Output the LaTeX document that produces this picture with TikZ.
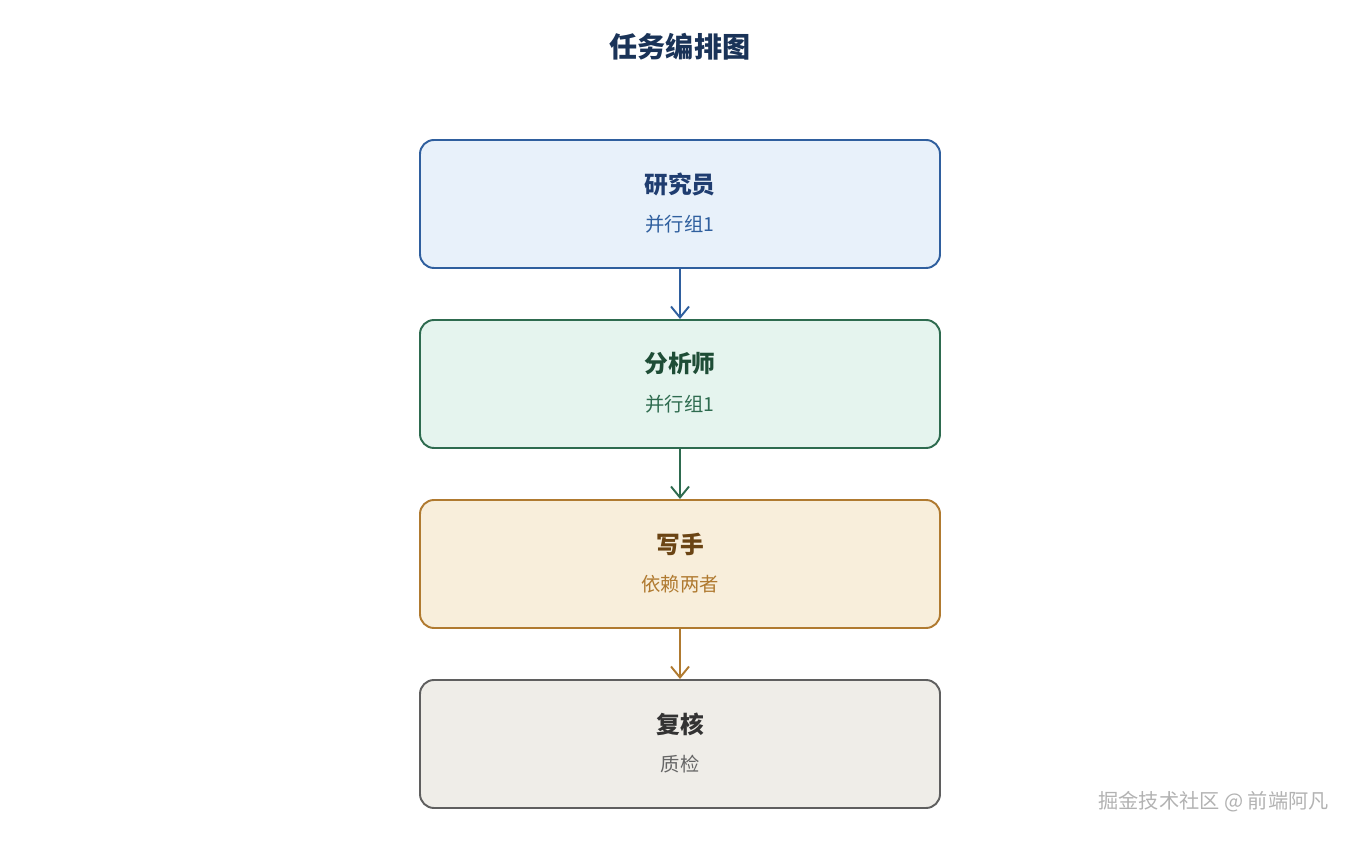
\documentclass[tikz,border=0pt]{standalone}
\usepackage{fontspec}
\setmainfont{Noto Sans CJK SC}
\usetikzlibrary{arrows.meta,positioning}
\definecolor{titleblue}{HTML}{1A3358}
\definecolor{bluefill}{HTML}{E8F1FA}\definecolor{blueline}{HTML}{2F5F9E}\definecolor{bluetext}{HTML}{1F3D70}
\definecolor{greenfill}{HTML}{E5F4EE}\definecolor{greenline}{HTML}{2E6B4F}\definecolor{greentext}{HTML}{1E4D36}
\definecolor{orangefill}{HTML}{F8EEDB}\definecolor{orangeline}{HTML}{B07A30}\definecolor{orangetext}{HTML}{6B4414}
\definecolor{greyfill}{HTML}{EFEDE8}\definecolor{greyline}{HTML}{5F5F5F}\definecolor{greytext}{HTML}{333333}\definecolor{greysub}{HTML}{666666}
\tikzset{
  task/.style={draw, rounded corners=0.28cm, line width=1.1pt, minimum width=10.4cm, minimum height=2.56cm},
  link/.style={->, >={Straight Barb[length=2.2mm,width=3.6mm]}, line width=1.1pt}
}
\begin{document}
\begin{tikzpicture}
\useasboundingbox (0,0) rectangle (27.2,16.8);

% NODES %%%%%%%%%%%%%%%%%%%%%%%%%%%%%%%%%%%%%%%%%%%%%%%%%%%%%%%%%%%%%%%%%%

\node[font=\bfseries\fontsize{16}{18}\selectfont, color=titleblue] (T) at (13.6,15.86) {任务编排图};

\node[task, fill=bluefill, draw=blueline] (R) at (13.6,12.72) {};
\node[task, fill=greenfill, draw=greenline] (A) at (13.6,9.12) {};
\node[task, fill=orangefill, draw=orangeline] (W) at (13.6,5.52) {};
\node[task, fill=greyfill, draw=greyline] (C) at (13.6,1.92) {};

% LINKS %%%%%%%%%%%%%%%%%%%%%%%%%%%%%%%%%%%%%%%%%%%%%%%%%%%%%%%%%%%%%%%%%%

\draw[link, color=blueline] (R) -- (A);
\draw[link, color=greenline] (A) -- (W);
\draw[link, color=orangeline] (W) -- (C);

% ETIQUETTES

\node[font=\bfseries\fontsize{13.5}{15}\selectfont, color=bluetext] at (13.6,13.12) {研究员};
\node[font=\fontsize{11}{13}\selectfont, color=blueline] at (13.6,12.32) {并行组1};
\node[font=\bfseries\fontsize{13.5}{15}\selectfont, color=greentext] at (13.6,9.52) {分析师};
\node[font=\fontsize{11}{13}\selectfont, color=greenline] at (13.6,8.72) {并行组1};
\node[font=\bfseries\fontsize{13.5}{15}\selectfont, color=orangetext] at (13.6,5.92) {写手};
\node[font=\fontsize{11}{13}\selectfont, color=orangeline] at (13.6,5.12) {依赖两者};
\node[font=\bfseries\fontsize{13.5}{15}\selectfont, color=greytext] at (13.6,2.32) {复核};
\node[font=\fontsize{11}{13}\selectfont, color=greysub] at (13.6,1.52) {质检};

\node[font=\fontsize{11.5}{13}\selectfont, color=gray!60, anchor=east] at (26.7,0.76) {掘金技术社区 @ 前端阿凡};

\end{tikzpicture}
\end{document}
